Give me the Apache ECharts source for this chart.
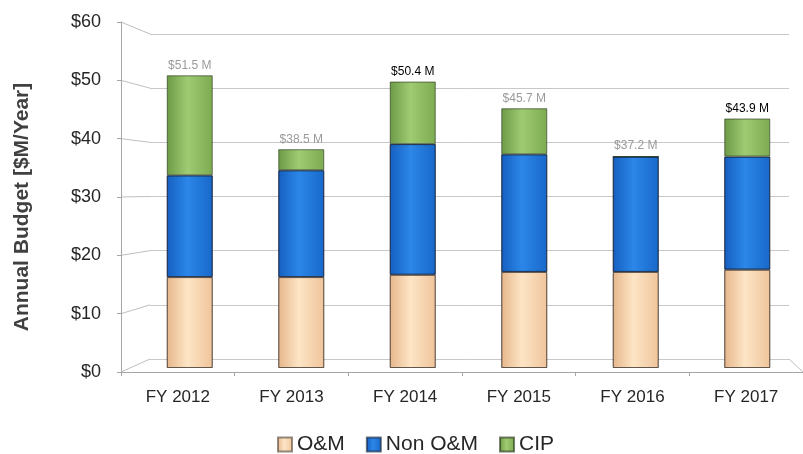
<!DOCTYPE html>
<html>
<head>
<meta charset="utf-8">
<script src="https://cdn.jsdelivr.net/npm/echarts@6/dist/echarts.min.js"></script>
<style>html,body{margin:0;padding:0;background:#fff}#c{width:803px;height:454px}</style>
</head>
<body>
<div id="c"></div>
<script>
var categories = ['FY 2012', 'FY 2013', 'FY 2014', 'FY 2015', 'FY 2016', 'FY 2017'];
var omValues = [16.0, 16.0, 16.4, 16.9, 16.9, 17.3];
var nonOmValues = [17.9, 18.8, 23.0, 20.7, 20.3, 19.9];
var cipValues = [17.6, 3.7, 11.0, 8.1, 0, 6.7];
var totalLabels = ['$51.5 M', '$38.5 M', '$50.4 M', '$45.7 M', '$37.2 M', '$43.9 M'];
var yTicks = [0, 10, 20, 30, 40, 50, 60];

var FONT = '"Liberation Sans", "Open Sans", sans-serif';
var chart = echarts.init(document.getElementById('c'), null, {renderer: 'canvas'});

function grad(a, b, c) {
  return new echarts.graphic.LinearGradient(0, 0, 1, 0, [
    {offset: 0, color: a}, {offset: 0.45, color: b}, {offset: 1, color: c}
  ]);
}
var darkLabel = {2: true, 5: true};

var option = {
  animation: false,
  backgroundColor: '#fff',
  grid: [
    {left: 121, right: -6, top: 22, bottom: 82},
    {left: 150, right: 14, top: 34, bottom: 95},
    {left: 134, right: 0, top: 27, bottom: 86}
  ],
  xAxis: [
    {type: 'category', gridIndex: 0, data: categories,
      axisLine: {lineStyle: {color: '#a6a6a6'}},
      axisTick: {show: true, length: 4, lineStyle: {color: '#a6a6a6'}},
      axisLabel: {color: '#262626', fontSize: 17, fontFamily: FONT, margin: 17}},
    {type: 'value', gridIndex: 1, min: 0, max: 1, show: false, splitLine: {show: false}},
    {type: 'category', gridIndex: 2, data: categories, show: false},
    {type: 'value', gridIndex: 0, min: 0, max: 1, show: false, position: 'top', splitLine: {show: false}}
  ],
  yAxis: [
    {type: 'value', gridIndex: 0, min: 0, max: 60, interval: 10,
      name: 'Annual Budget [$M/Year]', nameLocation: 'middle', nameGap: 88,
      nameTextStyle: {fontSize: 21, fontWeight: 'bold', color: '#404040', fontFamily: FONT, padding: [0, 20, 0, 0]},
      axisLine: {show: true, lineStyle: {color: '#a6a6a6'}},
      axisTick: {show: true, length: 4, lineStyle: {color: '#a6a6a6'}},
      splitLine: {show: false},
      axisLabel: {color: '#262626', fontSize: 18, fontFamily: FONT, margin: 20,
        formatter: function (v) { return yTicks.indexOf(v) >= 0 ? '$' + v : ''; }}},
    {type: 'value', gridIndex: 1, min: 0, max: 60, interval: 10,
      axisLine: {show: false}, axisTick: {show: false}, axisLabel: {show: false},
      splitLine: {show: true, lineStyle: {color: '#c8c8c8', width: 1}}},
    {type: 'value', gridIndex: 2, min: 0, max: 60, interval: 10, show: false,
      splitLine: {show: false}}
  ],
  legend: {
    top: 429, left: 272, itemWidth: 14, itemHeight: 14, itemGap: 21,
    icon: 'rect',
    textStyle: {fontSize: 21, color: '#262626', fontFamily: FONT},
    data: ['O&M', 'Non O&M', 'CIP']
  },
  series: [
    {name: 'O&M', type: 'bar', stack: 'b', xAxisIndex: 2, yAxisIndex: 2, barWidth: 46,
      data: omValues,
      itemStyle: {color: grad('#e6b68b', '#fde5c5', '#efc49b'), borderColor: 'rgba(60,50,40,0.55)', borderWidth: 1}},
    {name: 'Non O&M', type: 'bar', stack: 'b', xAxisIndex: 2, yAxisIndex: 2, barWidth: 46,
      data: nonOmValues,
      itemStyle: {color: grad('#155fc0', '#2b87e8', '#1868c9'), borderColor: 'rgba(20,30,50,0.6)', borderWidth: 1}},
    {name: 'CIP', type: 'bar', stack: 'b', xAxisIndex: 2, yAxisIndex: 2, barWidth: 46,
      data: cipValues,
      itemStyle: {color: grad('#6c9a46', '#9fcb72', '#7dab52'), borderColor: 'rgba(30,45,20,0.6)', borderWidth: 1},
      label: {show: true, position: 'top', distance: 4, fontFamily: FONT, fontSize: 12,
        formatter: function (p) { return '{' + (darkLabel[p.dataIndex] ? 'd' : 'g') + '|' + totalLabels[p.dataIndex] + '}'; },
        rich: {d: {color: '#000', fontSize: 12, fontFamily: FONT}, g: {color: '#9a9a9a', fontSize: 12, fontFamily: FONT}}}}
  ]
};
chart.setOption(option);

// perspective connectors from the front axis ticks to the back wall gridlines
var connectors = [];
yTicks.forEach(function (v) {
  var front = chart.convertToPixel({xAxisIndex: 3, yAxisIndex: 0}, [0, v]);
  var back = chart.convertToPixel({xAxisIndex: 1, yAxisIndex: 1}, [0, v]);
  connectors.push({type: 'line', silent: true,
    shape: {x1: front[0], y1: front[1], x2: back[0], y2: back[1]},
    style: {stroke: '#bfbfbf', lineWidth: 1}});
});
var fr = chart.convertToPixel({xAxisIndex: 3, yAxisIndex: 0}, [1, 0]);
var br = chart.convertToPixel({xAxisIndex: 1, yAxisIndex: 1}, [1, 0]);
connectors.push({type: 'line', silent: true,
  shape: {x1: br[0], y1: br[1], x2: fr[0], y2: fr[1]},
  style: {stroke: '#bfbfbf', lineWidth: 1}});
chart.setOption({graphic: {elements: connectors}});
</script>
</body>
</html>
